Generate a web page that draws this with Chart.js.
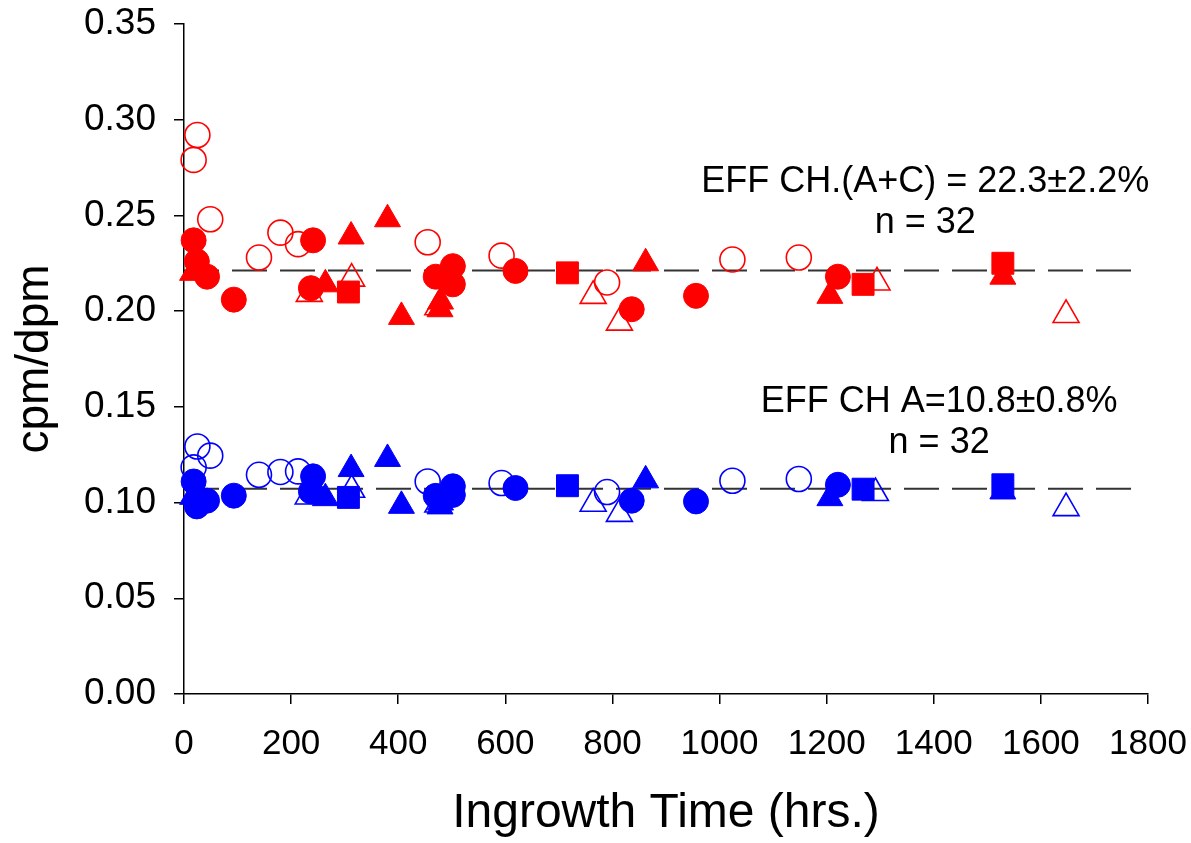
<!DOCTYPE html>
<html>
<head>
<meta charset="utf-8">
<script src="https://cdn.jsdelivr.net/npm/chart.js@4/dist/chart.umd.min.js"></script>
<style>
  html, body { margin: 0; padding: 0; background: #fff; }
  #wrap { width: 1191px; height: 843px; }
</style>
</head>
<body>
<div id="wrap"><canvas id="effChart"></canvas></div>
<script>
// ---- data (x = hours, y = cpm/dpm) ----
const xTicks = [0, 200, 400, 600, 800, 1000, 1200, 1400, 1600, 1800];
const yTicks = [0, 0.05, 0.10, 0.15, 0.20, 0.25, 0.30, 0.35];

// red: EFF CH.(A+C)
const redFilledCircleX = [18, 24, 43, 93, 241, 237, 470, 502, 502, 619, 836, 956, 1221];
const redFilledCircleY = [0.237, 0.226, 0.218, 0.206, 0.237, 0.212, 0.218, 0.2235, 0.214, 0.221, 0.201, 0.208, 0.218];
const redOpenCircleX = [25, 18, 49, 140, 180, 213, 455, 593, 790, 1024, 1148];
const redOpenCircleY = [0.292, 0.279, 0.248, 0.228, 0.241, 0.235, 0.236, 0.229, 0.215, 0.227, 0.228];
const redFilledTriX = [16, 264, 312, 380, 406, 479, 478, 862, 1206, 1529];
const redFilledTriY = [0.220, 0.214, 0.239, 0.248, 0.197, 0.205, 0.201, 0.225, 0.208, 0.218];
const redOpenTriX = [234, 313, 474, 764, 813, 1294, 1647];
const redOpenTriY = [0.209, 0.217, 0.202, 0.208, 0.194, 0.215, 0.198];
const redSquareX = [307, 716, 1268, 1529];
const redSquareY = [0.210, 0.220, 0.214, 0.225];

// blue: EFF CH A
const blueFilledCircleX = [18, 24, 43, 93, 241, 237, 470, 502, 502, 619, 836, 956, 1221];
const blueFilledCircleY = [0.111, 0.098, 0.101, 0.1036, 0.1137, 0.1058, 0.1035, 0.1085, 0.104, 0.1076, 0.101, 0.1006, 0.1093];
const blueOpenCircleX = [25, 18, 49, 140, 180, 213, 455, 593, 790, 1024, 1148];
const blueOpenCircleY = [0.1293, 0.1184, 0.1245, 0.1145, 0.116, 0.1163, 0.111, 0.1102, 0.1055, 0.1114, 0.1123];
const blueFilledTriX = [16, 264, 312, 380, 406, 479, 478, 862, 1206, 1529];
const blueFilledTriY = [0.103, 0.1023, 0.1175, 0.1228, 0.0983, 0.100, 0.098, 0.1116, 0.1023, 0.1058];
const blueOpenTriX = [232, 313, 474, 764, 813, 1291, 1647];
const blueOpenTriY = [0.1032, 0.1067, 0.099, 0.0994, 0.0941, 0.105, 0.0971];
const blueSquareX = [307, 716, 1268, 1529];
const blueSquareY = [0.1027, 0.1088, 0.107, 0.1093];

// mean lines
const meanLineX = [0, 1790];
const redMean = 0.2212;
const blueMean = 0.1072;

const RED = '#ff0000';
const BLUE = '#0000ff';
const FONT = '"Liberation Sans", Arial, Helvetica, sans-serif';

function pts(xs, ys) {
    return xs.map((x, i) => ({ x: x, y: ys[i] }));
}

function markerSet(label, xs, ys, color, style, filled, radius) {
    return {
        label: label,
        type: 'scatter',
        data: pts(xs, ys),
        pointStyle: style,
        pointRadius: radius,
        pointHoverRadius: radius,
        pointBackgroundColor: filled ? color : 'rgba(0,0,0,0)',
        pointBorderColor: color,
        pointBorderWidth: filled ? 1 : 1.6,
        showLine: false,
        clip: false,
        order: filled ? 1 : 2
    };
}

function meanSet(label, value) {
    return {
        label: label,
        type: 'line',
        data: meanLineX.map(x => ({ x: x, y: value })),
        borderColor: '#333333',
        borderWidth: 2,
        borderDash: [35, 13],
        pointRadius: 0,
        fill: false,
        order: 10
    };
}

// text blocks beside the lines
const notes = [
    { lines: ['EFF CH.(A+C) = 22.3\u00b12.2%', 'n = 32'], x: 1384, y: [0.2672, 0.2462] },
    { lines: ['EFF CH A=10.8\u00b10.8%', 'n = 32'], x: 1410, y: [0.1527, 0.1313] }
];

const notePlugin = {
    id: 'notes',
    afterDatasetsDraw(chart) {
        const ctx = chart.ctx;
        const xs = chart.scales.x, ys = chart.scales.y;
        ctx.save();
        ctx.fillStyle = '#000';
        ctx.font = '36px ' + FONT;
        ctx.textAlign = 'center';
        ctx.textBaseline = 'middle';
        notes.forEach(n => {
            n.lines.forEach((t, i) => {
                ctx.fillText(t, xs.getPixelForValue(n.x), ys.getPixelForValue(n.y[i]));
            });
        });
        ctx.restore();
    }
};

// keep the plot box fixed; no extra room for overhanging labels
function noOverhang(s) {
    s.paddingTop = 0;
    s.paddingBottom = 0;
    s.paddingLeft = 0;
    s.paddingRight = 0;
}

const ctx = document.getElementById('effChart').getContext('2d');
new Chart(ctx, {
    type: 'scatter',
    data: {
        datasets: [
            meanSet('red mean', redMean),
            meanSet('blue mean', blueMean),
            markerSet('red open circle', redOpenCircleX, redOpenCircleY, RED, 'circle', false, 12.5),
            markerSet('red open triangle', redOpenTriX, redOpenTriY, RED, 'triangle', false, 15),
            markerSet('red filled triangle', redFilledTriX, redFilledTriY, RED, 'triangle', true, 15),
            markerSet('red square', redSquareX, redSquareY, RED, 'rect', true, 15.5),
            markerSet('red filled circle', redFilledCircleX, redFilledCircleY, RED, 'circle', true, 12.5),
            markerSet('blue open circle', blueOpenCircleX, blueOpenCircleY, BLUE, 'circle', false, 12.5),
            markerSet('blue open triangle', blueOpenTriX, blueOpenTriY, BLUE, 'triangle', false, 15),
            markerSet('blue filled triangle', blueFilledTriX, blueFilledTriY, BLUE, 'triangle', true, 15),
            markerSet('blue square', blueSquareX, blueSquareY, BLUE, 'rect', true, 15.5),
            markerSet('blue filled circle', blueFilledCircleX, blueFilledCircleY, BLUE, 'circle', true, 12.5)
        ]
    },
    options: {
        responsive: true,
        maintainAspectRatio: false,
        animation: false,
        events: [],
        layout: { padding: { left: 0, top: 24, right: 43, bottom: 0 } },
        plugins: {
            legend: { display: false },
            tooltip: { enabled: false }
        },
        scales: {
            x: {
                type: 'linear',
                min: 0,
                max: 1800,
                afterBuildTicks: s => { s.ticks = xTicks.map(v => ({ value: v })); },
                afterFit: s => { s.height = 149; noOverhang(s); },
                border: { display: true, color: '#000', width: 1.5 },
                grid: { display: true, drawOnChartArea: false, drawTicks: true, tickLength: 10, color: '#000', lineWidth: 1.5 },
                ticks: {
                    color: '#000',
                    font: { family: FONT, size: 35 },
                    padding: 19,
                    maxRotation: 0,
                    callback: v => String(v)
                },
                title: {
                    display: true,
                    text: 'Ingrowth Time (hrs.)',
                    color: '#000',
                    font: { family: FONT, size: 48 },
                    padding: { top: 12, bottom: 0 }
                }
            },
            y: {
                type: 'linear',
                min: 0,
                max: 0.35,
                afterBuildTicks: s => { s.ticks = yTicks.map(v => ({ value: v })); },
                afterFit: s => { s.width = 184; noOverhang(s); },
                border: { display: true, color: '#000', width: 1.5 },
                grid: { display: true, drawOnChartArea: false, drawTicks: true, tickLength: 10, color: '#000', lineWidth: 1.5 },
                ticks: {
                    color: '#000',
                    font: { family: FONT, size: 37 },
                    padding: 18,
                    callback: v => Number(v).toFixed(2)
                },
                title: {
                    display: true,
                    text: 'cpm/dpm',
                    color: '#000',
                    font: { family: FONT, size: 46 },
                    padding: { top: 8, bottom: 4 }
                }
            }
        }
    },
    plugins: [notePlugin]
});
</script>
</body>
</html>
